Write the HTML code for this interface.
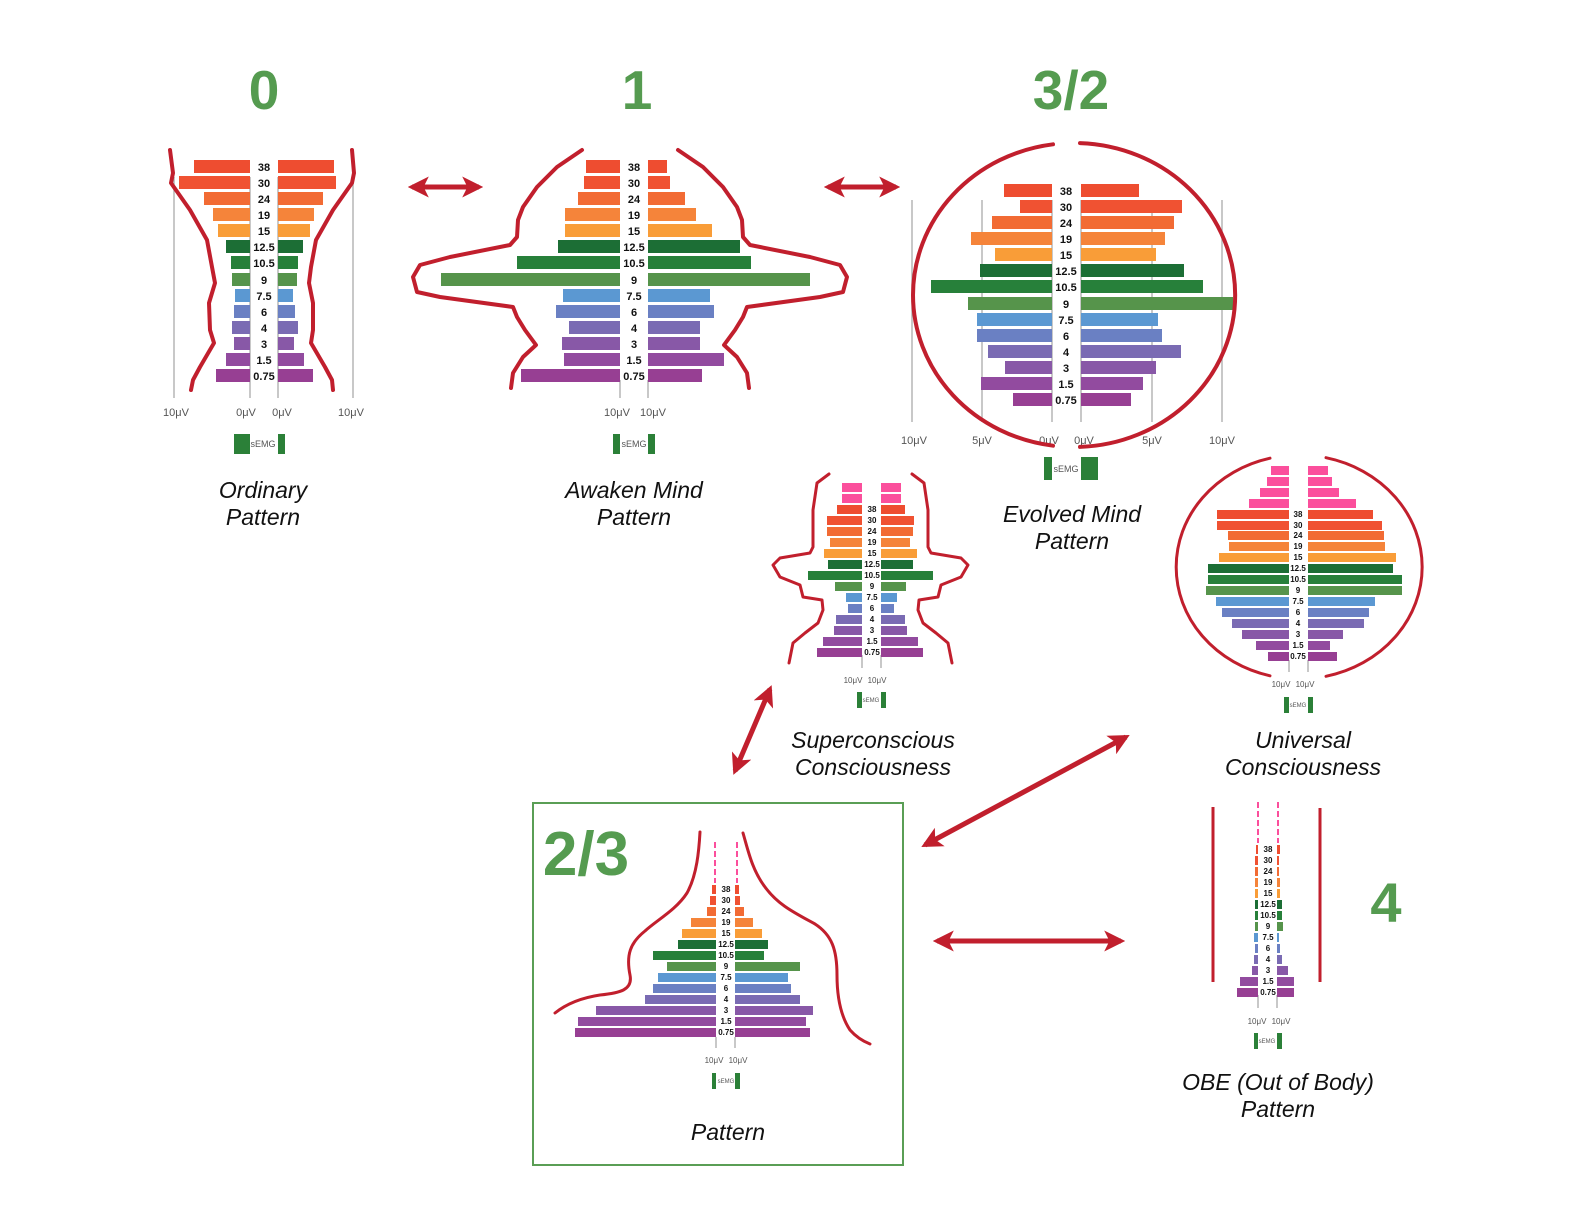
<!DOCTYPE html>
<html><head><meta charset="utf-8"><style>
html,body{margin:0;padding:0;background:#fff}
svg{display:block}
.a{fill:#ee4d30}.b{fill:#f05232}.c{fill:#f26b34}.d{fill:#f5843a}.e{fill:#f99d38}.f{fill:#1c6e35}.g{fill:#27803a}.h{fill:#56944b}.i{fill:#5b98d2}.j{fill:#6a80c3}.k{fill:#7a6bb3}.l{fill:#8858a7}.m{fill:#924b9f}.n{fill:#973f93}.p{fill:#fb4f9c}
.num{font-family:"Liberation Sans",sans-serif;font-weight:bold;fill:#111;text-anchor:middle}
.ax{font-family:"Liberation Sans",sans-serif;fill:#555;text-anchor:middle}
.lab{font-family:"Liberation Sans",sans-serif;font-style:italic;fill:#111;text-anchor:middle;font-size:23px}
.big{font-family:"Liberation Sans",sans-serif;font-weight:bold;fill:#559b50;text-anchor:middle}
.red{fill:none;stroke:#c11f2d;stroke-linejoin:round;stroke-linecap:round}
.gl{stroke:#aaa;stroke-width:1.3}
.sg{fill:#2b8038}
</style></head><body>
<svg width="1584" height="1225" viewBox="0 0 1584 1225" xmlns="http://www.w3.org/2000/svg">
<defs>
<marker id="ah" viewBox="0 0 10 10" refX="8" refY="5" markerWidth="4.2" markerHeight="4.2" orient="auto-start-reverse"><path d="M0,0 L10,5 L0,10 L2.5,5 Z" fill="#c11f2d"/></marker>
</defs>

<text class="big" x="264" y="109" font-size="55">0</text>
<text class="big" x="637" y="109" font-size="55">1</text>
<text class="big" x="1071" y="109" font-size="55">3/2</text>
<text class="big" x="586" y="875" font-size="62">2/3</text>
<text class="big" x="1386" y="922" font-size="56">4</text>

<g stroke="#c11f2d" stroke-width="5" fill="none">
<line x1="412" y1="187" x2="479" y2="187" marker-start="url(#ah)" marker-end="url(#ah)"/>
<line x1="828" y1="187" x2="896" y2="187" marker-start="url(#ah)" marker-end="url(#ah)"/>
<line x1="770" y1="689" x2="735" y2="771" marker-start="url(#ah)" marker-end="url(#ah)"/>
<line x1="1126" y1="737" x2="925" y2="845" marker-start="url(#ah)" marker-end="url(#ah)"/>
<line x1="937" y1="941" x2="1121" y2="941" marker-start="url(#ah)" marker-end="url(#ah)"/>
</g>

<!-- Chart 0 -->
<g class="gl"><line x1="174" y1="177" x2="174" y2="398"/><line x1="250" y1="177" x2="250" y2="398"/><line x1="278" y1="177" x2="278" y2="398"/><line x1="353" y1="177" x2="353" y2="398"/></g>
<g>
<rect class="a" x="194" y="160" width="56" height="13"/><rect class="a" x="278" y="160" width="56" height="13"/>
<rect class="b" x="179" y="176" width="71" height="13"/><rect class="b" x="278" y="176" width="58" height="13"/>
<rect class="c" x="204" y="192" width="46" height="13"/><rect class="c" x="278" y="192" width="45" height="13"/>
<rect class="d" x="213" y="208" width="37" height="13"/><rect class="d" x="278" y="208" width="36" height="13"/>
<rect class="e" x="218" y="224" width="32" height="13"/><rect class="e" x="278" y="224" width="32" height="13"/>
<rect class="f" x="226" y="240" width="24" height="13"/><rect class="f" x="278" y="240" width="25" height="13"/>
<rect class="g" x="231" y="256" width="19" height="13"/><rect class="g" x="278" y="256" width="20" height="13"/>
<rect class="h" x="232" y="273" width="18" height="13"/><rect class="h" x="278" y="273" width="19" height="13"/>
<rect class="i" x="235" y="289" width="15" height="13"/><rect class="i" x="278" y="289" width="15" height="13"/>
<rect class="j" x="234" y="305" width="16" height="13"/><rect class="j" x="278" y="305" width="17" height="13"/>
<rect class="k" x="232" y="321" width="18" height="13"/><rect class="k" x="278" y="321" width="20" height="13"/>
<rect class="l" x="234" y="337" width="16" height="13"/><rect class="l" x="278" y="337" width="16" height="13"/>
<rect class="m" x="226" y="353" width="24" height="13"/><rect class="m" x="278" y="353" width="26" height="13"/>
<rect class="n" x="216" y="369" width="34" height="13"/><rect class="n" x="278" y="369" width="35" height="13"/>
</g>
<g class="num" font-size="11">
<text x="264" y="171">38</text><text x="264" y="187">30</text><text x="264" y="203">24</text><text x="264" y="219">19</text><text x="264" y="235">15</text><text x="264" y="251">12.5</text><text x="264" y="267">10.5</text><text x="264" y="284">9</text><text x="264" y="300">7.5</text><text x="264" y="316">6</text><text x="264" y="332">4</text><text x="264" y="348">3</text><text x="264" y="364">1.5</text><text x="264" y="380">0.75</text>
</g>
<g class="ax" font-size="11"><text x="176" y="416">10μV</text><text x="246" y="416">0μV</text><text x="282" y="416">0μV</text><text x="351" y="416">10μV</text></g>
<rect class="sg" x="234" y="434" width="16" height="20"/><rect class="sg" x="278" y="434" width="7" height="20"/>
<text class="ax" x="263" y="447" font-size="9">sEMG</text>
<polyline class="red" stroke-width="4" points="170,150 173,173 171,183 190,210 207,240 212,267 215,283 209,303 210,330 214,343 200,367 193,380 191,390"/>
<polyline class="red" stroke-width="4" points="352,150 354,173 352,183 333,210 316,240 311,267 309,283 313,303 313,330 311,343 325,367 332,380 333,390"/>
<text class="lab" x="263" y="498">Ordinary</text><text class="lab" x="263" y="525">Pattern</text>

<!-- Chart 1 -->
<g class="gl"><line x1="620" y1="380" x2="620" y2="398"/><line x1="648" y1="380" x2="648" y2="398"/></g>
<g>
<rect class="a" x="586" y="160" width="34" height="13"/><rect class="a" x="648" y="160" width="19" height="13"/>
<rect class="b" x="584" y="176" width="36" height="13"/><rect class="b" x="648" y="176" width="22" height="13"/>
<rect class="c" x="578" y="192" width="42" height="13"/><rect class="c" x="648" y="192" width="37" height="13"/>
<rect class="d" x="565" y="208" width="55" height="13"/><rect class="d" x="648" y="208" width="48" height="13"/>
<rect class="e" x="565" y="224" width="55" height="13"/><rect class="e" x="648" y="224" width="64" height="13"/>
<rect class="f" x="558" y="240" width="62" height="13"/><rect class="f" x="648" y="240" width="92" height="13"/>
<rect class="g" x="517" y="256" width="103" height="13"/><rect class="g" x="648" y="256" width="103" height="13"/>
<rect class="h" x="441" y="273" width="179" height="13"/><rect class="h" x="648" y="273" width="162" height="13"/>
<rect class="i" x="563" y="289" width="57" height="13"/><rect class="i" x="648" y="289" width="62" height="13"/>
<rect class="j" x="556" y="305" width="64" height="13"/><rect class="j" x="648" y="305" width="66" height="13"/>
<rect class="k" x="569" y="321" width="51" height="13"/><rect class="k" x="648" y="321" width="52" height="13"/>
<rect class="l" x="562" y="337" width="58" height="13"/><rect class="l" x="648" y="337" width="52" height="13"/>
<rect class="m" x="564" y="353" width="56" height="13"/><rect class="m" x="648" y="353" width="76" height="13"/>
<rect class="n" x="521" y="369" width="99" height="13"/><rect class="n" x="648" y="369" width="54" height="13"/>
</g>
<g class="num" font-size="11">
<text x="634" y="171">38</text><text x="634" y="187">30</text><text x="634" y="203">24</text><text x="634" y="219">19</text><text x="634" y="235">15</text><text x="634" y="251">12.5</text><text x="634" y="267">10.5</text><text x="634" y="284">9</text><text x="634" y="300">7.5</text><text x="634" y="316">6</text><text x="634" y="332">4</text><text x="634" y="348">3</text><text x="634" y="364">1.5</text><text x="634" y="380">0.75</text>
</g>
<g class="ax" font-size="11"><text x="617" y="416">10μV</text><text x="653" y="416">10μV</text></g>
<rect class="sg" x="613" y="434" width="7" height="20"/><rect class="sg" x="648" y="434" width="7" height="20"/>
<text class="ax" x="634" y="447" font-size="9">sEMG</text>
<polyline class="red" stroke-width="4" points="582,150 557,167 537,187 523,207 518,220 517,237 510,245 450,257 420,265 413,277 417,292 440,297 513,307 517,317 525,330 536,345 523,357 513,373 511,388"/>
<polyline class="red" stroke-width="4" points="678,150 703,167 723,187 737,207 742,220 743,237 750,245 810,257 840,265 847,277 843,292 820,297 747,307 743,317 735,330 724,345 737,357 747,373 749,388"/>
<text class="lab" x="634" y="498">Awaken Mind</text><text class="lab" x="634" y="525">Pattern</text>

<!-- Chart 3/2 -->
<g class="gl"><line x1="912" y1="200" x2="912" y2="422"/><line x1="982" y1="200" x2="982" y2="422"/><line x1="1052" y1="200" x2="1052" y2="422"/><line x1="1081" y1="200" x2="1081" y2="422"/><line x1="1152" y1="200" x2="1152" y2="422"/><line x1="1222" y1="200" x2="1222" y2="422"/></g>
<g>
<rect class="a" x="1004" y="184" width="48" height="13"/><rect class="a" x="1081" y="184" width="58" height="13"/>
<rect class="b" x="1020" y="200" width="32" height="13"/><rect class="b" x="1081" y="200" width="101" height="13"/>
<rect class="c" x="992" y="216" width="60" height="13"/><rect class="c" x="1081" y="216" width="93" height="13"/>
<rect class="d" x="971" y="232" width="81" height="13"/><rect class="d" x="1081" y="232" width="84" height="13"/>
<rect class="e" x="995" y="248" width="57" height="13"/><rect class="e" x="1081" y="248" width="75" height="13"/>
<rect class="f" x="980" y="264" width="72" height="13"/><rect class="f" x="1081" y="264" width="103" height="13"/>
<rect class="g" x="931" y="280" width="121" height="13"/><rect class="g" x="1081" y="280" width="122" height="13"/>
<rect class="h" x="968" y="297" width="84" height="13"/><rect class="h" x="1081" y="297" width="152" height="13"/>
<rect class="i" x="977" y="313" width="75" height="13"/><rect class="i" x="1081" y="313" width="77" height="13"/>
<rect class="j" x="977" y="329" width="75" height="13"/><rect class="j" x="1081" y="329" width="81" height="13"/>
<rect class="k" x="988" y="345" width="64" height="13"/><rect class="k" x="1081" y="345" width="100" height="13"/>
<rect class="l" x="1005" y="361" width="47" height="13"/><rect class="l" x="1081" y="361" width="75" height="13"/>
<rect class="m" x="981" y="377" width="71" height="13"/><rect class="m" x="1081" y="377" width="62" height="13"/>
<rect class="n" x="1013" y="393" width="39" height="13"/><rect class="n" x="1081" y="393" width="50" height="13"/>
</g>
<g class="num" font-size="11">
<text x="1066" y="195">38</text><text x="1066" y="211">30</text><text x="1066" y="227">24</text><text x="1066" y="243">19</text><text x="1066" y="259">15</text><text x="1066" y="275">12.5</text><text x="1066" y="291">10.5</text><text x="1066" y="308">9</text><text x="1066" y="324">7.5</text><text x="1066" y="340">6</text><text x="1066" y="356">4</text><text x="1066" y="372">3</text><text x="1066" y="388">1.5</text><text x="1066" y="404">0.75</text>
</g>
<g class="ax" font-size="11"><text x="914" y="444">10μV</text><text x="982" y="444">5μV</text><text x="1049" y="444">0μV</text><text x="1084" y="444">0μV</text><text x="1152" y="444">5μV</text><text x="1222" y="444">10μV</text></g>
<rect class="sg" x="1044" y="457" width="8" height="23"/><rect class="sg" x="1081" y="457" width="17" height="23"/>
<text class="ax" x="1066" y="472" font-size="9">sEMG</text>
<path class="red" stroke-width="4" d="M1053,144.3 A161,152 0 0 0 1053,445.7"/>
<path class="red" stroke-width="4" d="M1080,143.1 A161,152 0 0 1 1080,446.9"/>
<text class="lab" x="1072" y="522">Evolved Mind</text><text class="lab" x="1072" y="549">Pattern</text>

<!-- Superconscious -->
<g class="gl"><line x1="862" y1="655" x2="862" y2="668"/><line x1="881" y1="655" x2="881" y2="668"/></g>
<g>
<rect class="p" x="842" y="483" width="20" height="9"/><rect class="p" x="881" y="483" width="20" height="9"/>
<rect class="p" x="842" y="494" width="20" height="9"/><rect class="p" x="881" y="494" width="20" height="9"/>
<rect class="a" x="837" y="505" width="25" height="9"/><rect class="a" x="881" y="505" width="24" height="9"/>
<rect class="b" x="827" y="516" width="35" height="9"/><rect class="b" x="881" y="516" width="33" height="9"/>
<rect class="c" x="827" y="527" width="35" height="9"/><rect class="c" x="881" y="527" width="32" height="9"/>
<rect class="d" x="830" y="538" width="32" height="9"/><rect class="d" x="881" y="538" width="29" height="9"/>
<rect class="e" x="824" y="549" width="38" height="9"/><rect class="e" x="881" y="549" width="36" height="9"/>
<rect class="f" x="828" y="560" width="34" height="9"/><rect class="f" x="881" y="560" width="32" height="9"/>
<rect class="g" x="808" y="571" width="54" height="9"/><rect class="g" x="881" y="571" width="52" height="9"/>
<rect class="h" x="835" y="582" width="27" height="9"/><rect class="h" x="881" y="582" width="25" height="9"/>
<rect class="i" x="846" y="593" width="16" height="9"/><rect class="i" x="881" y="593" width="16" height="9"/>
<rect class="j" x="848" y="604" width="14" height="9"/><rect class="j" x="881" y="604" width="13" height="9"/>
<rect class="k" x="836" y="615" width="26" height="9"/><rect class="k" x="881" y="615" width="24" height="9"/>
<rect class="l" x="834" y="626" width="28" height="9"/><rect class="l" x="881" y="626" width="26" height="9"/>
<rect class="m" x="823" y="637" width="39" height="9"/><rect class="m" x="881" y="637" width="37" height="9"/>
<rect class="n" x="817" y="648" width="45" height="9"/><rect class="n" x="881" y="648" width="42" height="9"/>
</g>
<g class="num" font-size="8">
<text x="872" y="512">38</text><text x="872" y="523">30</text><text x="872" y="534">24</text><text x="872" y="545">19</text><text x="872" y="556">15</text><text x="872" y="567">12.5</text><text x="872" y="578">10.5</text><text x="872" y="589">9</text><text x="872" y="600">7.5</text><text x="872" y="611">6</text><text x="872" y="622">4</text><text x="872" y="633">3</text><text x="872" y="644">1.5</text><text x="872" y="655">0.75</text>
</g>
<g class="ax" font-size="8"><text x="853" y="683">10μV</text><text x="877" y="683">10μV</text></g>
<rect class="sg" x="857" y="692" width="5" height="16"/><rect class="sg" x="881" y="692" width="5" height="16"/>
<text class="ax" x="871" y="702" font-size="6">sEMG</text>
<polyline class="red" stroke-width="3" points="829,474 817,483 813,510 813,547 810,553 780,558 773,565 780,577 800,585 803,597 822,600 823,610 818,623 805,633 793,643 789,663"/>
<polyline class="red" stroke-width="3" points="912,474 924,483 928,510 928,547 931,553 961,558 968,565 961,577 941,585 938,597 919,600 918,610 923,623 936,633 948,643 952,663"/>
<text class="lab" x="873" y="748">Superconscious</text><text class="lab" x="873" y="775">Consciousness</text>

<!-- Universal -->
<g class="gl"><line x1="1289" y1="660" x2="1289" y2="672"/><line x1="1308" y1="660" x2="1308" y2="672"/></g>
<g>
<rect class="p" x="1271" y="466" width="18" height="9"/><rect class="p" x="1308" y="466" width="20" height="9"/>
<rect class="p" x="1267" y="477" width="22" height="9"/><rect class="p" x="1308" y="477" width="24" height="9"/>
<rect class="p" x="1260" y="488" width="29" height="9"/><rect class="p" x="1308" y="488" width="31" height="9"/>
<rect class="p" x="1249" y="499" width="40" height="9"/><rect class="p" x="1308" y="499" width="48" height="9"/>
<rect class="a" x="1217" y="510" width="72" height="9"/><rect class="a" x="1308" y="510" width="65" height="9"/>
<rect class="b" x="1217" y="521" width="72" height="9"/><rect class="b" x="1308" y="521" width="74" height="9"/>
<rect class="c" x="1228" y="531" width="61" height="9"/><rect class="c" x="1308" y="531" width="76" height="9"/>
<rect class="d" x="1229" y="542" width="60" height="9"/><rect class="d" x="1308" y="542" width="77" height="9"/>
<rect class="e" x="1219" y="553" width="70" height="9"/><rect class="e" x="1308" y="553" width="88" height="9"/>
<rect class="f" x="1208" y="564" width="81" height="9"/><rect class="f" x="1308" y="564" width="85" height="9"/>
<rect class="g" x="1208" y="575" width="81" height="9"/><rect class="g" x="1308" y="575" width="94" height="9"/>
<rect class="h" x="1206" y="586" width="83" height="9"/><rect class="h" x="1308" y="586" width="94" height="9"/>
<rect class="i" x="1216" y="597" width="73" height="9"/><rect class="i" x="1308" y="597" width="67" height="9"/>
<rect class="j" x="1222" y="608" width="67" height="9"/><rect class="j" x="1308" y="608" width="61" height="9"/>
<rect class="k" x="1232" y="619" width="57" height="9"/><rect class="k" x="1308" y="619" width="56" height="9"/>
<rect class="l" x="1242" y="630" width="47" height="9"/><rect class="l" x="1308" y="630" width="35" height="9"/>
<rect class="m" x="1256" y="641" width="33" height="9"/><rect class="m" x="1308" y="641" width="22" height="9"/>
<rect class="n" x="1268" y="652" width="21" height="9"/><rect class="n" x="1308" y="652" width="29" height="9"/>
</g>
<g class="num" font-size="8">
<text x="1298" y="517">38</text><text x="1298" y="528">30</text><text x="1298" y="538">24</text><text x="1298" y="549">19</text><text x="1298" y="560">15</text><text x="1298" y="571">12.5</text><text x="1298" y="582">10.5</text><text x="1298" y="593">9</text><text x="1298" y="604">7.5</text><text x="1298" y="615">6</text><text x="1298" y="626">4</text><text x="1298" y="637">3</text><text x="1298" y="648">1.5</text><text x="1298" y="659">0.75</text>
</g>
<g class="ax" font-size="8"><text x="1281" y="687">10μV</text><text x="1305" y="687">10μV</text></g>
<rect class="sg" x="1284" y="697" width="5" height="16"/><rect class="sg" x="1308" y="697" width="5" height="16"/>
<text class="ax" x="1298" y="707" font-size="6">sEMG</text>
<path class="red" stroke-width="3" d="M1270,458.2 A123,112 0 0 0 1270,675.8"/>
<path class="red" stroke-width="3" d="M1326,457.7 A123,112 0 0 1 1326,676.3"/>
<text class="lab" x="1303" y="748">Universal</text><text class="lab" x="1303" y="775">Consciousness</text>

<!-- 2/3 Box -->
<rect x="533" y="803" width="370" height="362" fill="none" stroke="#5a9e55" stroke-width="2"/>
<g stroke="#fb4f9c" stroke-width="2" stroke-dasharray="6,3"><line x1="715" y1="842" x2="715" y2="883"/><line x1="737" y1="842" x2="737" y2="883"/></g>
<g class="gl"><line x1="716" y1="1037" x2="716" y2="1048"/><line x1="735" y1="1037" x2="735" y2="1048"/></g>
<g>
<rect class="a" x="712" y="885" width="4" height="9"/><rect class="a" x="735" y="885" width="4" height="9"/>
<rect class="b" x="710" y="896" width="6" height="9"/><rect class="b" x="735" y="896" width="5" height="9"/>
<rect class="c" x="707" y="907" width="9" height="9"/><rect class="c" x="735" y="907" width="9" height="9"/>
<rect class="d" x="691" y="918" width="25" height="9"/><rect class="d" x="735" y="918" width="18" height="9"/>
<rect class="e" x="682" y="929" width="34" height="9"/><rect class="e" x="735" y="929" width="27" height="9"/>
<rect class="f" x="678" y="940" width="38" height="9"/><rect class="f" x="735" y="940" width="33" height="9"/>
<rect class="g" x="653" y="951" width="63" height="9"/><rect class="g" x="735" y="951" width="29" height="9"/>
<rect class="h" x="667" y="962" width="49" height="9"/><rect class="h" x="735" y="962" width="65" height="9"/>
<rect class="i" x="658" y="973" width="58" height="9"/><rect class="i" x="735" y="973" width="53" height="9"/>
<rect class="j" x="653" y="984" width="63" height="9"/><rect class="j" x="735" y="984" width="56" height="9"/>
<rect class="k" x="645" y="995" width="71" height="9"/><rect class="k" x="735" y="995" width="65" height="9"/>
<rect class="l" x="596" y="1006" width="120" height="9"/><rect class="l" x="735" y="1006" width="78" height="9"/>
<rect class="m" x="578" y="1017" width="138" height="9"/><rect class="m" x="735" y="1017" width="71" height="9"/>
<rect class="n" x="575" y="1028" width="141" height="9"/><rect class="n" x="735" y="1028" width="75" height="9"/>
</g>
<g class="num" font-size="8">
<text x="726" y="892">38</text><text x="726" y="903">30</text><text x="726" y="914">24</text><text x="726" y="925">19</text><text x="726" y="936">15</text><text x="726" y="947">12.5</text><text x="726" y="958">10.5</text><text x="726" y="969">9</text><text x="726" y="980">7.5</text><text x="726" y="991">6</text><text x="726" y="1002">4</text><text x="726" y="1013">3</text><text x="726" y="1024">1.5</text><text x="726" y="1035">0.75</text>
</g>
<g class="ax" font-size="8"><text x="714" y="1063">10μV</text><text x="738" y="1063">10μV</text></g>
<rect class="sg" x="712" y="1073" width="4" height="16"/><rect class="sg" x="735" y="1073" width="5" height="16"/>
<text class="ax" x="726" y="1083" font-size="6">sEMG</text>
<path class="red" stroke-width="3" d="M700,832 C699,850 697,875 687,893 C676,910 657,920 645,931 C630,943 626,955 630,975 C633,990 620,993 600,995 C580,998 565,1005 555,1013"/>
<path class="red" stroke-width="3" d="M743,833 C748,850 752,870 765,887 C778,905 795,913 815,924 C832,935 837,950 837,975 C837,995 840,1015 850,1030 C857,1038 865,1042 870,1044"/>
<text class="lab" x="728" y="1140">Pattern</text>

<!-- OBE -->
<g stroke="#fb4f9c" stroke-width="2" stroke-dasharray="6,3"><line x1="1258" y1="802" x2="1258" y2="843"/><line x1="1278" y1="802" x2="1278" y2="843"/></g>
<g class="gl"><line x1="1258" y1="995" x2="1258" y2="1008"/><line x1="1277" y1="995" x2="1277" y2="1008"/></g>
<g>
<rect class="a" x="1256" y="845" width="2" height="9"/><rect class="a" x="1277" y="845" width="3" height="9"/>
<rect class="b" x="1255" y="856" width="3" height="9"/><rect class="b" x="1277" y="856" width="2" height="9"/>
<rect class="c" x="1255" y="867" width="3" height="9"/><rect class="c" x="1277" y="867" width="2" height="9"/>
<rect class="d" x="1255" y="878" width="3" height="9"/><rect class="d" x="1277" y="878" width="3" height="9"/>
<rect class="e" x="1255" y="889" width="3" height="9"/><rect class="e" x="1277" y="889" width="3" height="9"/>
<rect class="f" x="1255" y="900" width="3" height="9"/><rect class="f" x="1277" y="900" width="5" height="9"/>
<rect class="g" x="1255" y="911" width="3" height="9"/><rect class="g" x="1277" y="911" width="5" height="9"/>
<rect class="h" x="1255" y="922" width="3" height="9"/><rect class="h" x="1277" y="922" width="6" height="9"/>
<rect class="i" x="1254" y="933" width="4" height="9"/><rect class="i" x="1277" y="933" width="2" height="9"/>
<rect class="j" x="1255" y="944" width="3" height="9"/><rect class="j" x="1277" y="944" width="3" height="9"/>
<rect class="k" x="1254" y="955" width="4" height="9"/><rect class="k" x="1277" y="955" width="5" height="9"/>
<rect class="l" x="1252" y="966" width="6" height="9"/><rect class="l" x="1277" y="966" width="11" height="9"/>
<rect class="m" x="1240" y="977" width="18" height="9"/><rect class="m" x="1277" y="977" width="17" height="9"/>
<rect class="n" x="1237" y="988" width="21" height="9"/><rect class="n" x="1277" y="988" width="17" height="9"/>
</g>
<g class="num" font-size="8">
<text x="1268" y="852">38</text><text x="1268" y="863">30</text><text x="1268" y="874">24</text><text x="1268" y="885">19</text><text x="1268" y="896">15</text><text x="1268" y="907">12.5</text><text x="1268" y="918">10.5</text><text x="1268" y="929">9</text><text x="1268" y="940">7.5</text><text x="1268" y="951">6</text><text x="1268" y="962">4</text><text x="1268" y="973">3</text><text x="1268" y="984">1.5</text><text x="1268" y="995">0.75</text>
</g>
<g class="ax" font-size="8"><text x="1257" y="1024">10μV</text><text x="1281" y="1024">10μV</text></g>
<rect class="sg" x="1254" y="1033" width="4" height="16"/><rect class="sg" x="1277" y="1033" width="5" height="16"/>
<text class="ax" x="1267" y="1043" font-size="6">sEMG</text>
<line x1="1213" y1="807" x2="1213" y2="982" stroke="#c11f2d" stroke-width="3"/>
<line x1="1320" y1="808" x2="1320" y2="982" stroke="#c11f2d" stroke-width="3"/>
<text class="lab" x="1278" y="1090">OBE (Out of Body)</text><text class="lab" x="1278" y="1117">Pattern</text>
</svg>
</body></html>
